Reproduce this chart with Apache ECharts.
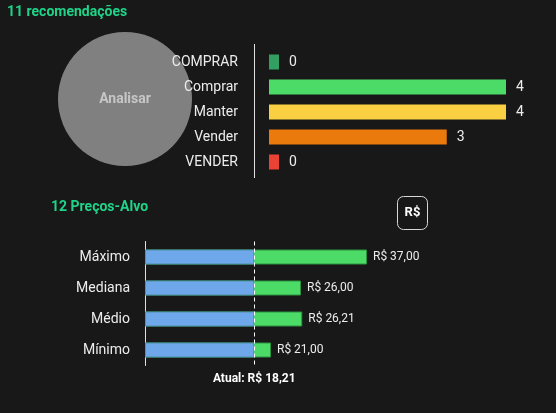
<!DOCTYPE html>
<html><head><meta charset="utf-8">
<script src="https://cdn.jsdelivr.net/npm/echarts@6/dist/echarts.min.js"></script>
<style>html,body{margin:0;padding:0;background:#181818}#c{width:556px;height:413px}</style>
</head><body><div id="c"></div>
<script>
const recCategories = ['COMPRAR', 'Comprar', 'Manter', 'Vender', 'VENDER'];
const recValues = [0, 4, 4, 3, 0];
const recColors = ['#32a060', '#4cdb66', '#fad042', '#ea7a0b', '#ea4335'];
const pieLabel = 'Analisar';
const priceCategories = ['Máximo', 'Mediana', 'Médio', 'Mínimo'];
const priceTargets = [37.00, 26.00, 26.21, 21.00];
const currentPrice = 18.21;
const currentValues = [18.21, 18.21, 18.21, 18.21];

const fmt = v => 'R$ ' + v.toFixed(2).replace('.', ',');
const FONT = 'Roboto';

const chart = echarts.init(document.getElementById('c'));
chart.setOption({
  backgroundColor: '#181818',
  animation: false,
  textStyle: { fontFamily: FONT },
  title: [
    { text: '11 recomendações', left: 7, top: 5, padding: 0,
      textStyle: { color: '#1fd488', fontSize: 14, fontWeight: 'bold', fontFamily: FONT } },
    { text: '12 Preços-Alvo', left: 51, top: 200, padding: 0,
      textStyle: { color: '#1fd488', fontSize: 14, fontWeight: 'bold', fontFamily: FONT } }
  ],
  grid: [
    { left: 269, top: 49.5, width: 237, height: 125 },
    { left: 145, top: 241.5, width: 300, height: 124 }
  ],
  xAxis: [
    { gridIndex: 0, type: 'value', min: 0, max: 4, show: false },
    { gridIndex: 1, type: 'value', min: 0, max: 50, show: false }
  ],
  yAxis: [
    { gridIndex: 0, type: 'category', data: recCategories, inverse: true, z: 10,
      axisLine: { show: false }, axisTick: { show: false }, splitLine: { show: false },
      axisLabel: { color: '#ececec', fontSize: 14, margin: 31, fontFamily: FONT } },
    { gridIndex: 1, type: 'category', data: priceCategories, inverse: true,
      axisLine: { show: true, lineStyle: { color: '#e0e0e0', width: 1 } },
      axisTick: { show: false }, splitLine: { show: false },
      axisLabel: { color: '#ececec', fontSize: 14, margin: 15, fontFamily: FONT } }
  ],
  series: [
    { type: 'pie', center: [125, 99], radius: 67, silent: true, z: 0,
      data: [{ name: pieLabel, value: 1 }],
      itemStyle: { color: '#808080' },
      label: { show: true, position: 'center', formatter: '{b}', color: '#c6c6c6',
               fontSize: 14, fontWeight: 'bold', fontFamily: FONT },
      labelLine: { show: false }, emphasis: { disabled: true } },
    { type: 'bar', xAxisIndex: 0, yAxisIndex: 0, barWidth: 15, barMinHeight: 10,
      data: recValues.map((v, i) => ({ value: v, itemStyle: { color: recColors[i] } })),
      label: { show: true, position: 'right', distance: 10, color: '#ececec', fontSize: 14, fontFamily: FONT } },
    { type: 'bar', xAxisIndex: 1, yAxisIndex: 1, barWidth: 15, barGap: '-100%',
      data: priceTargets,
      itemStyle: { color: '#4cdb66', borderColor: '#2a9440', borderWidth: 1 },
      label: { show: true, position: 'right', distance: 6, color: '#ececec', fontSize: 12,
               fontFamily: FONT, formatter: p => fmt(p.value) } },
    { type: 'bar', xAxisIndex: 1, yAxisIndex: 1, barWidth: 15, barGap: '-100%',
      data: currentValues,
      itemStyle: { color: '#6ea8ea', borderColor: '#4f8fa8', borderWidth: 1 },
      markLine: { silent: true, symbol: 'none',
        lineStyle: { color: '#ffffff', type: [4, 3], width: 1 },
        label: { show: true, position: 'end', distance: 7, color: '#ffffff', fontSize: 12,
                 fontWeight: 'bold', fontFamily: FONT, formatter: 'Atual: ' + fmt(currentPrice) },
        data: [{ xAxis: currentPrice }] } }
  ],
  graphic: [
    { type: 'line', shape: { x1: 254.5, y1: 44, x2: 254.5, y2: 178 },
      style: { stroke: '#e0e0e0', lineWidth: 1 } },
    { type: 'rect', shape: { x: 397.5, y: 196.5, width: 30, height: 33, r: 6 },
      style: { fill: 'transparent', stroke: '#d8d8d8', lineWidth: 1 } },
    { type: 'text', x: 412.5, y: 213, style: { text: 'R$', fill: '#ffffff', fontSize: 13,
      fontWeight: 'bold', fontFamily: FONT, align: 'center', verticalAlign: 'middle' } }
  ]
});
</script></body></html>
